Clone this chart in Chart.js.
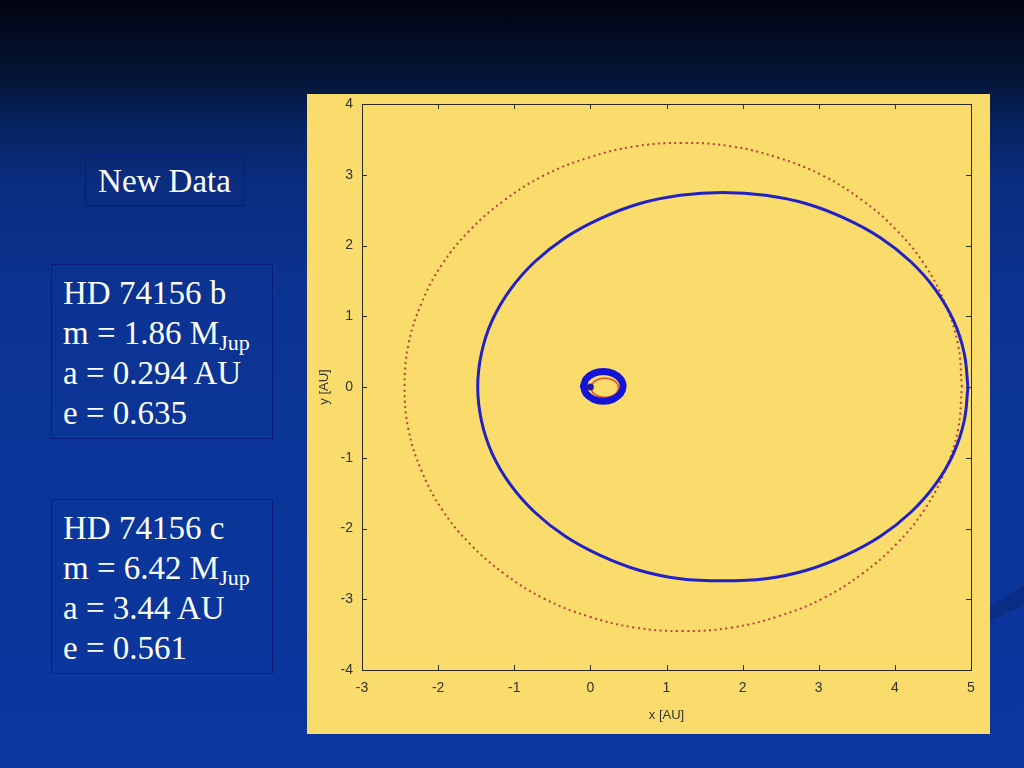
<!DOCTYPE html>
<html>
<head>
<meta charset="utf-8">
<script src="https://cdn.jsdelivr.net/npm/chart.js@4"></script>
<style>
  html,body{margin:0;padding:0;}
  body{width:1024px;height:768px;overflow:hidden;position:relative;
    background:linear-gradient(to bottom,#02020e 0%,#030a20 4%,#041535 10%,#07235f 16%,#0a2d80 24%,#0b3393 40%,#0a38a0 100%);
    font-family:"Liberation Serif","Times New Roman",serif;color:#fff;}
  .box{position:absolute;border:1px solid #0a1c7c;box-sizing:border-box;}
  .title{left:85px;top:154px;width:159px;height:52px;font-size:33px;line-height:52px;text-align:center;}
  .info{left:51px;width:222px;height:175px;font-size:33px;line-height:40px;padding:8px 0 0 11px;white-space:nowrap;}
  .info sub{font-size:22px;vertical-align:-6px;line-height:0;}
  #swoosh{position:absolute;left:960px;top:585px;width:64px;height:50px;background:#0a2d86;
    clip-path:polygon(0% 80%,100% 0%,100% 40%,0% 100%);}
  #wrap{position:absolute;left:307px;top:94px;width:683px;height:640px;background:#f9dc6c;}
</style>
</head>
<body>
<div id="swoosh"></div>
<div class="box title">New Data</div>
<div class="box info" style="top:264px;">HD 74156 b<br>m = 1.86 M<sub>Jup</sub><br>a = 0.294 AU<br>e = 0.635</div>
<div class="box info" style="top:499px;">HD 74156 c<br>m = 6.42 M<sub>Jup</sub><br>a = 3.44 AU<br>e = 0.561</div>
<div id="wrap"><canvas id="c" width="683" height="640"></canvas></div>
<script>
// Outer orbit (planet c, new data, blue)
const outerBlueX = [4.96, 4.91, 4.77, 4.53, 4.21, 3.81, 3.35, 2.84, 2.30, 1.74, 1.18, 0.64, 0.13, -0.33, -0.73, -1.05, -1.29, -1.43,
                    -1.48, -1.43, -1.29, -1.05, -0.73, -0.33, 0.13, 0.64, 1.18, 1.74, 2.30, 2.84, 3.35, 3.81, 4.21, 4.53, 4.77, 4.91];
const outerBlueY = [0.00, 0.48, 0.94, 1.38, 1.77, 2.11, 2.38, 2.59, 2.71, 2.75, 2.71, 2.59, 2.38, 2.11, 1.77, 1.38, 0.94, 0.48,
                    0.00, -0.48, -0.94, -1.38, -1.77, -2.11, -2.38, -2.59, -2.71, -2.74, -2.71, -2.59, -2.38, -2.11, -1.77, -1.38, -0.94, -0.48];
// Outer orbit (old data, red dotted)
const outerRedX = [4.88, 4.83, 4.66, 4.39, 4.02, 3.57, 3.05, 2.47, 1.86, 1.22, 0.58, -0.03, -0.61, -1.13, -1.58, -1.95, -2.22, -2.39,
                   -2.44, -2.39, -2.22, -1.95, -1.58, -1.13, -0.61, -0.03, 0.58, 1.22, 1.86, 2.47, 3.05, 3.57, 4.02, 4.39, 4.66, 4.83];
const outerRedY = [0.00, 0.60, 1.18, 1.73, 2.22, 2.64, 2.99, 3.24, 3.40, 3.45, 3.40, 3.24, 2.99, 2.64, 2.22, 1.73, 1.18, 0.60,
                   0.00, -0.60, -1.18, -1.73, -2.22, -2.64, -2.99, -3.24, -3.40, -3.45, -3.40, -3.24, -2.99, -2.64, -2.22, -1.73, -1.18, -0.60];
// Inner orbit (planet b, blue)
const innerBlueX = [-0.09, -0.055, 0.04, 0.17, 0.30, 0.395, 0.43, 0.395, 0.30, 0.17, 0.04, -0.055];
const innerBlueY = [0.01, -0.095, -0.172, -0.20, -0.172, -0.095, 0.01, 0.115, 0.192, 0.22, 0.192, 0.115];
// Inner orbit (old data, red)
const innerRedX = [0.01, 0.035, 0.10, 0.19, 0.28, 0.345, 0.37, 0.345, 0.28, 0.19, 0.10, 0.035];
const innerRedY = [-0.01, -0.08, -0.127, -0.145, -0.127, -0.08, -0.01, 0.06, 0.107, 0.125, 0.107, 0.06];
// Star
const starX = [0.0];
const starY = [0.0];

const xRange = [-3, 5];
const yRange = [-4, 4];

function closedLoop(xs, ys){
  const pts = xs.map((x,i)=>({x:x, y:ys[i]}));
  pts.push({x:xs[0], y:ys[0]});
  return pts;
}

const boxPlugin = {
  id:'boxTicks',
  afterDraw(chart){
    const {ctx, chartArea:a, scales:{x, y}} = chart;
    ctx.save();
    ctx.strokeStyle = '#2a2a20';
    ctx.lineWidth = 1;
    ctx.strokeRect(Math.round(a.left)+0.5, Math.round(a.top)+0.5, Math.round(a.right-a.left), Math.round(a.bottom-a.top));
    ctx.beginPath();
    x.ticks.forEach(t=>{
      const px = Math.round(x.getPixelForValue(t.value))+0.5;
      ctx.moveTo(px, a.bottom); ctx.lineTo(px, a.bottom-5);
      ctx.moveTo(px, a.top); ctx.lineTo(px, a.top+5);
    });
    y.ticks.forEach(t=>{
      const py = Math.round(y.getPixelForValue(t.value))+0.5;
      ctx.moveTo(a.left, py); ctx.lineTo(a.left+5, py);
      ctx.moveTo(a.right, py); ctx.lineTo(a.right-5, py);
    });
    ctx.stroke();
    ctx.restore();
  }
};

const tickFont = {family:"'Liberation Sans Narrow','Liberation Sans',Arial,sans-serif", size:14};

new Chart(document.getElementById('c'), {
  type:'scatter',
  data:{
    datasets:[
      {label:'star', data:starX.map((x,i)=>({x:x, y:starY[i]})), showLine:false,
        pointRadius:3.5, pointBackgroundColor:'#2a1a9a', pointBorderWidth:0},
      {label:'new b', data:closedLoop(innerBlueX, innerBlueY), showLine:true, tension:0.45,
        borderColor:'#1414d8', borderWidth:7, borderCapStyle:'round', borderJoinStyle:'round', pointRadius:0, fill:false},
      {label:'old b', data:closedLoop(innerRedX, innerRedY), showLine:true, tension:0.45,
        borderColor:'#d8502c', borderWidth:1.5, borderCapStyle:'round', borderJoinStyle:'round', pointRadius:0, fill:false},
      {label:'new c', data:closedLoop(outerBlueX, outerBlueY), showLine:true, tension:0.4,
        borderColor:'#2222c4', borderWidth:3, pointRadius:0, fill:false},
      {label:'old c', data:closedLoop(outerRedX, outerRedY), showLine:true, tension:0.4,
        borderColor:'#c03c36', borderWidth:2, borderDash:[2,3.5], pointRadius:0, fill:false}
    ]
  },
  options:{
    responsive:false, animation:false,
    layout:{padding:{top:10, right:19, left:0, bottom:0}},
    plugins:{legend:{display:false}, tooltip:{enabled:false}},
    scales:{
      x:{type:'linear', min:xRange[0], max:xRange[1],
        afterFit(s){ s.height = 64; s.paddingLeft = 0; s.paddingRight = 0; },
        grid:{display:false, drawTicks:false}, border:{display:false},
        ticks:{stepSize:1, padding:10, color:'#333', font:tickFont, maxRotation:0},
        title:{display:true, text:'x [AU]', color:'#333', font:{family:tickFont.family, size:13}, padding:{top:0, bottom:11}}},
      y:{type:'linear', min:yRange[0], max:yRange[1],
        afterFit(s){ s.width = 55; s.paddingTop = 0; s.paddingBottom = 0; },
        grid:{display:false, drawTicks:false}, border:{display:false},
        ticks:{stepSize:1, padding:9, color:'#333', font:tickFont},
        title:{display:true, text:'y [AU]', color:'#333', font:{family:tickFont.family, size:13}, padding:{top:10, bottom:0}}}
    }
  },
  plugins:[boxPlugin]
});
</script>
</body>
</html>
